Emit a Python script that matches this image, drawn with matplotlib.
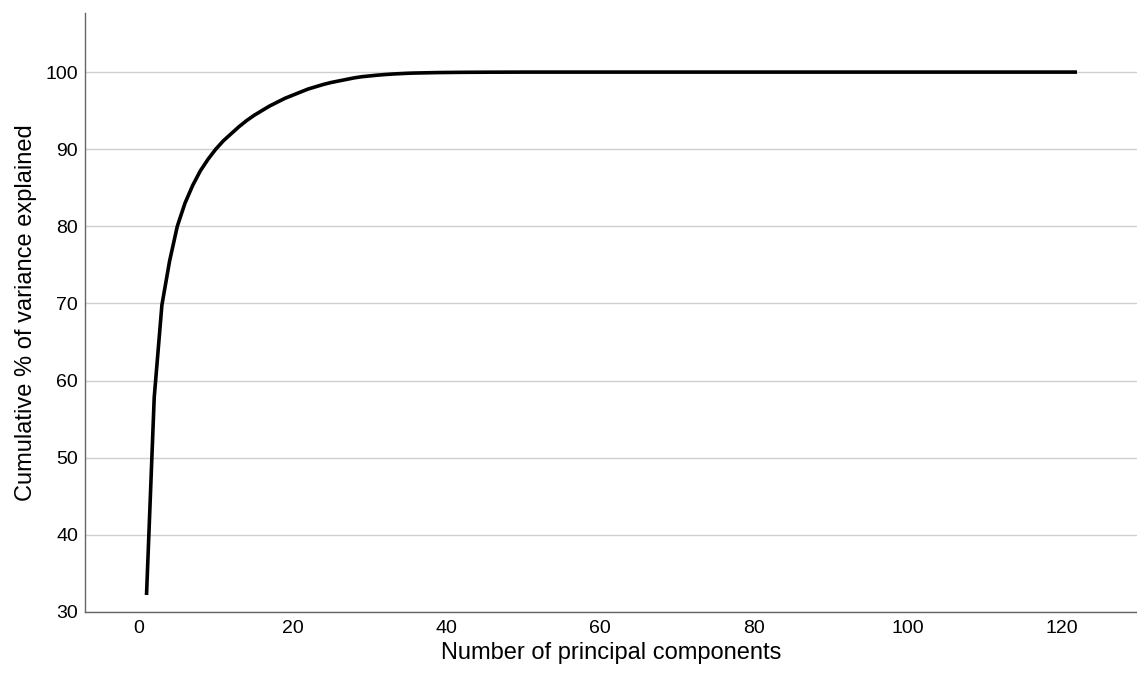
import matplotlib
matplotlib.use("Agg")
import matplotlib.pyplot as plt

components = list(range(1, 123))
cum_variance = [
    32.2, 57.8, 69.8, 75.5, 80.0, 83.0, 85.3, 87.2, 88.7, 90.0,
    91.1, 92.0, 92.9, 93.7, 94.4, 95.0, 95.6, 96.1, 96.6, 97.0,
    97.4, 97.8, 98.1, 98.4, 98.65, 98.85, 99.05, 99.25, 99.4, 99.5,
    99.6, 99.68, 99.75, 99.8, 99.85, 99.88, 99.9, 99.92, 99.94, 99.95,
    99.96, 99.97, 99.975, 99.98, 99.985, 99.99, 99.99, 99.995, 99.995, 100.0,
    100.0, 100.0, 100.0, 100.0, 100.0, 100.0, 100.0, 100.0, 100.0, 100.0,
    100.0, 100.0, 100.0, 100.0, 100.0, 100.0, 100.0, 100.0, 100.0, 100.0,
    100.0, 100.0, 100.0, 100.0, 100.0, 100.0, 100.0, 100.0, 100.0, 100.0,
    100.0, 100.0, 100.0, 100.0, 100.0, 100.0, 100.0, 100.0, 100.0, 100.0,
    100.0, 100.0, 100.0, 100.0, 100.0, 100.0, 100.0, 100.0, 100.0, 100.0,
    100.0, 100.0, 100.0, 100.0, 100.0, 100.0, 100.0, 100.0, 100.0, 100.0,
    100.0, 100.0, 100.0, 100.0, 100.0, 100.0, 100.0, 100.0, 100.0, 100.0,
    100.0, 100.0,
]
x_ticks = [0, 20, 40, 60, 80, 100, 120]
y_ticks = [30, 40, 50, 60, 70, 80, 90, 100]

plt.rcParams['font.family'] = ['Liberation Sans', 'DejaVu Sans']

fig = plt.figure(figsize=(11.37, 6.76), dpi=100)
ax = fig.add_axes([85/1137, 64/676, 1 - 85/1137, (612 - 12.7)/676])

ax.plot(components, cum_variance, color='black', linewidth=2.6, solid_capstyle='butt', zorder=3)

ax.set_xlim(-7.0, 129.8)
ax.set_ylim(30, 107.7)
ax.set_xticks(x_ticks)
ax.set_yticks(y_ticks)
ax.yaxis.grid(True, color='#d0d0d0', linewidth=1.0)
ax.set_axisbelow(True)
ax.tick_params(axis='both', length=0, labelsize=14, colors='black')
ax.tick_params(axis='y', pad=5)
ax.tick_params(axis='x', pad=5.5)
for s in ['top', 'right']:
    ax.spines[s].set_visible(False)
for s in ['left', 'bottom']:
    ax.spines[s].set_color('#666666')
    ax.spines[s].set_linewidth(1.0)

ax.set_xlabel('Number of principal components', fontsize=17, labelpad=4)
ax.set_ylabel('Cumulative % of variance explained', fontsize=17, labelpad=6)

fig.savefig('out.png', dpi=100)
